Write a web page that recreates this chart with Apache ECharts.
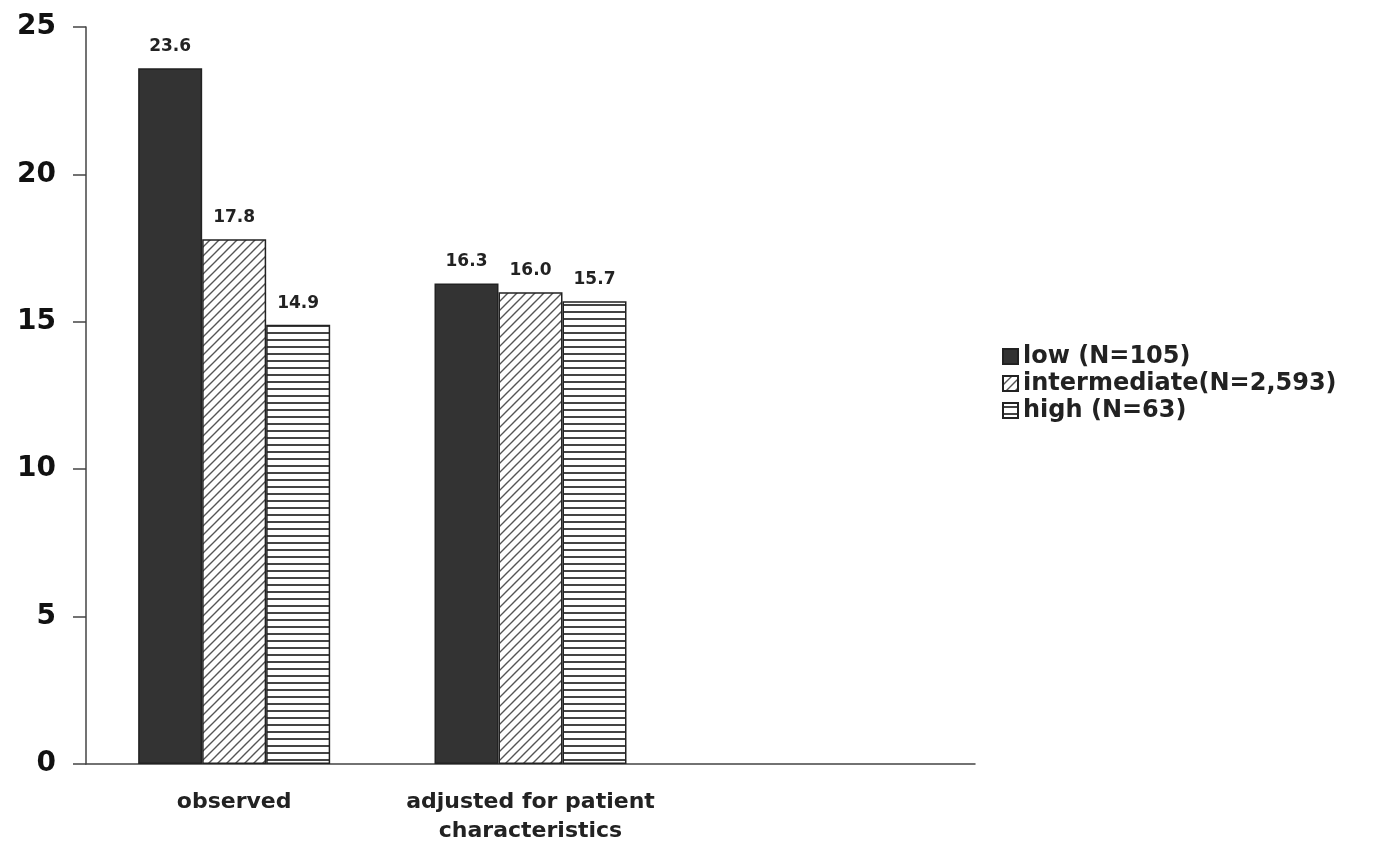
<!DOCTYPE html>
<html>
<head>
<meta charset="utf-8">
<script src="https://cdn.jsdelivr.net/npm/echarts@6/dist/echarts.min.js"></script>
<style>
html,body{margin:0;padding:0;background:#fff;}
#chart{width:1373px;height:846px;}
</style>
</head>
<body>
<div id="chart"></div>
<script>
var categories = ['observed', 'adjusted for patient\ncharacteristics', ''];
var seriesNames = ['low (N=105)', 'intermediate(N=2,593)', 'high (N=63)'];
var lowValues = [23.6, 16.3, null];
var intermediateValues = [17.8, 16.0, null];
var highValues = [14.9, 15.7, null];
var yTicks = [0, 5, 10, 15, 20, 25];

var FONT = "'DejaVu Sans', 'Liberation Sans', Arial, sans-serif";

function diagPattern() {
  var s = 9;
  var c = document.createElement('canvas');
  c.width = s; c.height = s;
  var g = c.getContext('2d');
  g.fillStyle = '#fff'; g.fillRect(0, 0, s, s);
  g.strokeStyle = '#555'; g.lineWidth = 1.4;
  g.beginPath();
  g.moveTo(-1, s + 1); g.lineTo(s + 1, -1);
  g.moveTo(-1 - s, s + 1); g.lineTo(1, -1);
  g.moveTo(s - 1, s + 1); g.lineTo(2 * s + 1, -1);
  g.stroke();
  return c;
}
function horizPattern() {
  var c = document.createElement('canvas');
  c.width = 8; c.height = 7;
  var g = c.getContext('2d');
  g.fillStyle = '#fff'; g.fillRect(0, 0, 8, 7);
  g.fillStyle = '#444'; g.fillRect(0, 3, 8, 2);
  return c;
}

var chart = echarts.init(document.getElementById('chart'));
var labelStyle = {
  show: true, position: 'top', distance: 13,
  fontFamily: FONT, fontWeight: 'bold', fontSize: 17, color: '#222',
  formatter: function (p) { return p.value.toFixed(1); }
};
function mk(name, data, color) {
  return {
    name: name, type: 'bar', data: data, barWidth: 64, barGap: '0%',
    itemStyle: { color: color, borderColor: '#222', borderWidth: 1.5 },
    label: labelStyle
  };
}
chart.setOption({
  animation: false,
  backgroundColor: '#fff',
  grid: { left: 86, right: 398, top: 27, bottom: 75, containLabel: false },
  legend: {
    orient: 'vertical', left: 997, top: 338,
    icon: 'rect',
    itemWidth: 15, itemHeight: 15, itemGap: 0,
    textStyle: { fontFamily: FONT, fontWeight: 'bold', fontSize: 24, color: '#222', lineHeight: 27 },
    data: seriesNames
  },
  xAxis: {
    type: 'category', data: categories,
    axisLine: { lineStyle: { color: '#444', width: 1.5 } },
    axisTick: { show: false },
    axisLabel: {
      margin: 24, interval: 0,
      fontFamily: FONT, fontWeight: 'bold', fontSize: 22, color: '#222', lineHeight: 29
    }
  },
  yAxis: {
    type: 'value', min: yTicks[0], max: yTicks[yTicks.length - 1], interval: 5,
    axisLine: { show: true, lineStyle: { color: '#444', width: 1.5 } },
    axisTick: { show: true, length: 13, lineStyle: { color: '#444', width: 1.5 } },
    splitLine: { show: false },
    axisLabel: {
      margin: 30,
      fontFamily: FONT, fontWeight: 'bold', fontSize: 28, color: '#111'
    }
  },
  series: [
    mk(seriesNames[0], lowValues, '#333'),
    mk(seriesNames[1], intermediateValues, { image: diagPattern(), repeat: 'repeat' }),
    mk(seriesNames[2], highValues, { image: horizPattern(), repeat: 'repeat' })
  ]
});
</script>
</body>
</html>
